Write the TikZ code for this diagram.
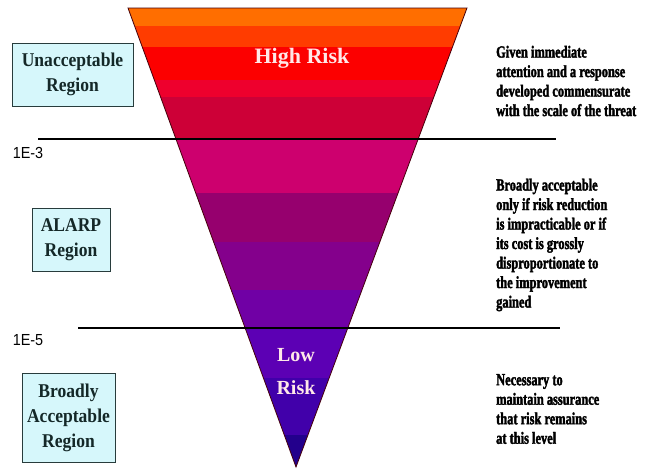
\documentclass[tikz,border=0pt]{standalone}
\usepackage{fontspec}
\setmainfont{Liberation Serif}
\newfontfamily\rtext{Liberation Serif}[FakeStretch=0.73,FakeBold=2]
\newfontfamily\boxfont{Liberation Serif}[FakeStretch=0.9]
\newfontfamily\lsans{Liberation Sans}[FakeStretch=0.9]
\definecolor{b1}{RGB}{255,110,0}
\definecolor{b2}{RGB}{255,60,0}
\definecolor{b3}{RGB}{252,0,0}
\definecolor{b4}{RGB}{238,0,45}
\definecolor{b5}{RGB}{205,0,55}
\definecolor{b6}{RGB}{205,0,110}
\definecolor{b7}{RGB}{150,0,110}
\definecolor{b8}{RGB}{132,0,140}
\definecolor{b9}{RGB}{112,0,165}
\definecolor{b10}{RGB}{92,0,180}
\definecolor{b11}{RGB}{65,0,170}
\definecolor{b12}{RGB}{35,0,140}
\definecolor{boxfill}{RGB}{214,247,251}
\definecolor{boxline}{RGB}{40,60,60}
\definecolor{boxtext}{RGB}{20,40,40}
\definecolor{risktext}{RGB}{255,232,232}
\tikzset{
  regionbox/.style={draw=boxline, line width=0.9pt, fill=boxfill, text=boxtext,
    align=center, inner sep=0pt, font=\boxfont\bfseries\fontsize{19.5}{25}\selectfont},
  rnote/.style={anchor=west, align=left, inner sep=0pt, text=black,
    font=\rtext\bfseries\fontsize{17}{19.5}\selectfont},
  expo/.style={inner sep=0pt, font=\lsans\fontsize{16}{18}\selectfont},
  risklabel/.style={text=risktext, align=center, inner sep=0pt,
    font=\bfseries\fontsize{22}{33}\selectfont},
  level/.style={line width=1.8pt, black}
}
\begin{document}
\begin{tikzpicture}[x=1pt,y=-1pt]
\useasboundingbox (0,0) rectangle (646,474);
\coordinate (tl) at (128,8);
\coordinate (tr) at (467,8);
\coordinate (ap) at (296,467);
\begin{scope}
\clip (tl) -- (tr) -- (ap) -- cycle;
\fill[b1] (100,0) rectangle (500,26);
\fill[b2] (100,26) rectangle (500,47);
\fill[b3] (100,47) rectangle (500,80);
\fill[b4] (100,80) rectangle (500,97);
\fill[b5] (100,97) rectangle (500,139);
\fill[b6] (100,139) rectangle (500,193);
\fill[b7] (100,193) rectangle (500,242);
\fill[b8] (100,242) rectangle (500,290);
\fill[b9] (100,290) rectangle (500,328);
\fill[b10] (100,328) rectangle (500,378);
\fill[b11] (100,378) rectangle (500,435);
\fill[b12] (100,435) rectangle (500,474);
\end{scope}
\draw[line width=0.8pt, draw={rgb,255:red,70;green,0;blue,10}] (tl) -- (tr) -- (ap) -- cycle;
\coordinate (a3) at (38,139);
\coordinate (b3e) at (556,139);
\coordinate (a5) at (78,328);
\coordinate (b5e) at (560,328);
\draw[level] (a3) -- (b3e);
\draw[level] (a5) -- (b5e);
\node[expo] (e3) at (28,153) {1E-3};
\node[expo] (e5) at (28,340) {1E-5};
\node[regionbox, minimum width=121, minimum height=63] (unacc) at (72.5,74.5) {Unacceptable\\Region};
\node[regionbox, minimum width=78, minimum height=63] (alarp) at (71,239.5) {ALARP\\Region};
\node[regionbox, minimum width=93, minimum height=89] (broad) at (68.5,417.5) {Broadly\\Acceptable\\Region};
\node[risklabel] (high) at (302,58) {High Risk};
\node[risklabel, font=\bfseries\fontsize{20}{33}\selectfont] (low) at (296,372) {Low\\Risk};
\node[rnote] (n1) at (496,81) {Given immediate\\attention and a response\\developed commensurate\\with the scale of the threat};
\node[rnote] (n2) at (496,245) {Broadly acceptable\\only if risk reduction\\is impracticable or if\\its cost is grossly\\disproportionate to\\the improvement\\gained};
\node[rnote] (n3) at (496,409) {Necessary to\\maintain assurance\\that risk remains\\at this level};
\end{tikzpicture}
\end{document}
